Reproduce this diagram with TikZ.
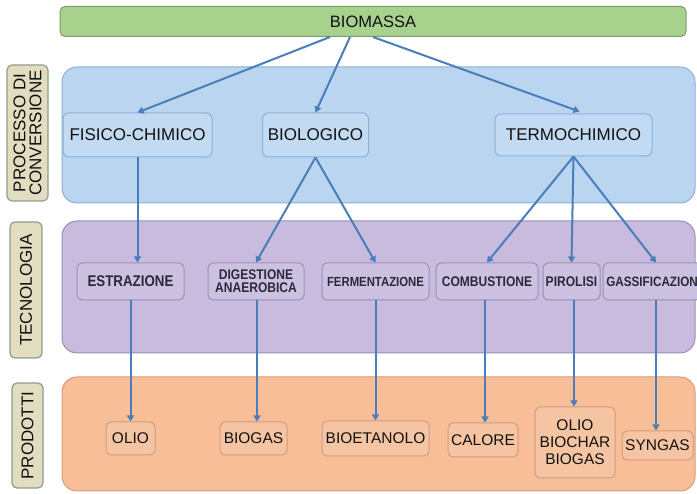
\documentclass[tikz,border=0pt]{standalone}
\usepackage{fontspec}
\setmainfont{Liberation Sans}
\newfontfamily\techfont[FakeStretch=0.86]{Liberation Sans Bold}
\usetikzlibrary{arrows.meta,calc}
\definecolor{greenf}{HTML}{A9D18E}
\definecolor{greend}{HTML}{7F9A65}
\definecolor{bluef}{HTML}{BAD5EF}
\definecolor{blued}{HTML}{8DB0D8}
\definecolor{bluen}{HTML}{C3DBF2}
\definecolor{purpf}{HTML}{C9BBDD}
\definecolor{purpd}{HTML}{9892B8}
\definecolor{purpn}{HTML}{CDC1E2}
\definecolor{orangf}{HTML}{F7BE98}
\definecolor{orangd}{HTML}{D29C7C}
\definecolor{orangn}{HTML}{F5C5A3}
\definecolor{tanf}{HTML}{E2DCC0}
\definecolor{tand}{HTML}{8E9E90}
\definecolor{arrowc}{HTML}{4A7EBB}
\definecolor{txt}{HTML}{111111}
\definecolor{techtxt}{HTML}{2A2A3A}
\tikzset{
  panel/.style={rounded corners=15pt, line width=1pt},
  lbl/.style={draw=tand, fill=tanf, rounded corners=5pt, line width=1.2pt, text=txt, inner sep=0pt, align=center, font=\fontsize{17}{18}\selectfont, rotate=90},
  lvlone/.style={draw=blued, fill=bluen, rounded corners=6pt, line width=1pt, text=txt, inner sep=0pt, font=\fontsize{17}{19}\selectfont},
  tech/.style={draw=purpd, fill=purpn, rounded corners=5pt, line width=1pt, text=techtxt, inner sep=0pt, align=center, font=\techfont\fontsize{14}{14}\selectfont},
  prod/.style={draw=orangd, fill=orangn, rounded corners=5pt, line width=1pt, text=txt, inner sep=0pt, align=center, font=\fontsize{15.5}{17}\selectfont},
  conn/.style={draw=arrowc, line width=2pt, -{Triangle[length=6pt,width=7pt]}},
}
\begin{document}
\begin{tikzpicture}[x=1pt,y=-1pt]
\useasboundingbox (0,0) rectangle (697,494);
\fill[white] (0,0) rectangle (697,494);
% panels
\draw[panel, draw=blued, fill=bluef] (62,67) rectangle (695,203);
\draw[panel, draw=purpd, fill=purpf] (62,221) rectangle (695,353);
\draw[panel, draw=orangd, fill=orangf] (62,377) rectangle (695,491);
% side labels
\node[lbl, minimum width=136pt, minimum height=41pt] (lproc) at (27.5,133) {PROCESSO DI\\[-2pt]CONVERSIONE};
\node[lbl, minimum width=136pt, minimum height=32pt] (ltec) at (26,290) {TECNOLOGIA};
\node[lbl, minimum width=105pt, minimum height=31pt] (lprod) at (27.5,435.5) {PRODOTTI};
% top bar
\node[draw=greend, fill=greenf, rounded corners=5pt, line width=1pt, text=txt, inner sep=0pt,
      minimum width=626pt, minimum height=30pt, font=\fontsize{16.5}{18}\selectfont] (bio) at (373,21.5) {BIOMASSA};
% level one
\node[lvlone, minimum width=149pt, minimum height=44pt] (fis) at (137.5,135) {FISICO-CHIMICO};
\node[lvlone, minimum width=106pt, minimum height=44pt] (biol) at (315.5,135) {BIOLOGICO};
\node[lvlone, minimum width=157pt, minimum height=42pt] (term) at (573.5,135) {TERMOCHIMICO};
% technology
\node[tech, minimum width=107pt, minimum height=37pt, font=\techfont\fontsize{15.5}{15}\selectfont] (estr) at (130.5,281.5) {ESTRAZIONE};
\node[tech, minimum width=96pt, minimum height=37pt, font=\techfont\fontsize{14}{13}\selectfont] (dig) at (256,281.5) {DIGESTIONE\\ANAEROBICA};
\node[tech, minimum width=107pt, minimum height=37pt, font=\techfont\fontsize{13.2}{13}\selectfont] (ferm) at (375.5,281.5) {FERMENTAZIONE};
\node[tech, minimum width=102pt, minimum height=37pt] (comb) at (487,281.5) {COMBUSTIONE};
\node[tech, minimum width=57pt, minimum height=37pt] (pir) at (571.5,281.5) {PIROLISI};
\node[tech, minimum width=106pt, minimum height=37pt, font=\techfont\fontsize{13.6}{13}\selectfont] (gas) at (656,281.5) {GASSIFICAZIONE};
% products
\node[prod, minimum width=49pt, minimum height=33pt] (olio) at (130.5,438.5) {OLIO};
\node[prod, minimum width=67pt, minimum height=33pt] (biog) at (253.5,438.5) {BIOGAS};
\node[prod, minimum width=107pt, minimum height=35pt] (bioet) at (375.5,438.5) {BIOETANOLO};
\node[prod, minimum width=70pt, minimum height=34pt] (cal) at (483,440) {CALORE};
\node[prod, minimum width=80pt, minimum height=71pt] (obb) at (575,442.5) {OLIO\\BIOCHAR\\BIOGAS};
\node[prod, minimum width=71pt, minimum height=29pt] (syn) at (657.5,445.5) {SYNGAS};
% connector anchors
\coordinate (b1) at ($(bio.south)+(-43,0)$);
\coordinate (b2) at ($(bio.south)+(-23,0)$);
\coordinate (t1) at ($(term.north)+(6,-2)$);
\coordinate (d1) at ($(dig.south)+(1,0)$);
\coordinate (c1) at ($(comb.south)+(-2,0)$);
\coordinate (p1) at ($(pir.south)+(2.5,0)$);
% connectors
\draw[conn] (b1) -- (fis.north);
\draw[conn] (b2) -- (biol.north);
\draw[conn] (bio.south) -- (t1);
\draw[conn] (fis.south) -- (fis.south |- estr.north);
\draw[conn] (biol.south) -- (dig.north);
\draw[conn] (biol.south) -- (ferm.north);
\draw[conn] (term.south) -- (comb.north);
\draw[conn] (term.south) -- (pir.north);
\draw[conn] (term.south) -- (gas.north);
\draw[conn] (estr.south) -- (estr.south |- olio.north);
\draw[conn] (d1) -- (d1 |- biog.north);
\draw[conn] (ferm.south) -- (ferm.south |- bioet.north);
\draw[conn] (c1) -- (c1 |- cal.north);
\draw[conn] (p1) -- (p1 |- obb.north);
\draw[conn] (gas.south) -- (gas.south |- syn.north);
\end{tikzpicture}
\end{document}
